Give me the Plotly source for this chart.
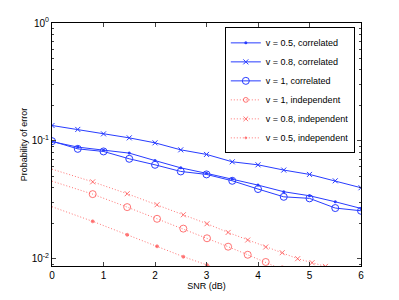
import plotly.graph_objects as go

# SNR (dB) grid for the correlated curves
snr_corr = [0, 0.5, 1, 1.5, 2, 2.5, 3, 3.5, 4, 4.5, 5, 5.5, 6]
pe_corr_05 = [0.0985, 0.0885, 0.0834, 0.0787, 0.0680, 0.0590, 0.0530, 0.0474, 0.0421, 0.0370, 0.0342, 0.0304, 0.0267]
pe_corr_08 = [0.135, 0.125, 0.1146, 0.106, 0.0962, 0.0839, 0.0767, 0.0664, 0.0626, 0.0565, 0.0519, 0.0458, 0.0400]
pe_corr_10 = [0.0994, 0.0855, 0.0813, 0.0704, 0.0626, 0.0550, 0.0519, 0.0458, 0.0390, 0.0335, 0.0325, 0.0269, 0.0255]

# independent curves (dotted), first point at 0 dB has no marker
snr_ind = [0, 0.79, 1.46, 2.04, 2.55, 3.01, 3.42, 3.80, 4.15, 4.47, 4.77, 5.05, 5.31]
pe_ind_10 = [0.0455, 0.0353, 0.0274, 0.0218, 0.0180, 0.0149, 0.01264, 0.0108, 0.00938, 0.0081, None, None, None]
pe_ind_08 = [0.0575, 0.0449, 0.0356, 0.0287, 0.0236, 0.0198, 0.0167, 0.0144, 0.01256, 0.01124, 0.0100, 0.00925, 0.0086]
pe_ind_05 = [0.0276, 0.02074, 0.01596, 0.01274, 0.0104, 0.00885, 0.0075, None, None, None, None, None, None]

names = ["v = 0.5, correlated", "v = 0.8, correlated", "v = 1, correlated",
         "v = 1, independent", "v = 0.8, independent", "v = 0.5, independent"]

xticks = [0, 1, 2, 3, 4, 5, 6]
ytick_vals = [1, 0.1, 0.01]
ytick_text = ["10<sup>0</sup>", "10<sup>-1</sup>", "10<sup>-2</sup>"]

BLUE = "rgb(40,60,255)"
RED = "rgb(255,60,60)"
RED_LINE = "rgba(255,70,70,0.75)"

def sizes(vals, s):
    out = []
    for i, v in enumerate(vals):
        out.append(0 if (i == 0 or v is None) else s)
    return out

fig = go.Figure()
fig.add_trace(go.Scatter(x=snr_corr, y=pe_corr_05, name=names[0], mode="lines+markers",
                         line=dict(color=BLUE, width=1),
                         marker=dict(symbol="circle", size=3, color=BLUE)))
fig.add_trace(go.Scatter(x=snr_corr, y=pe_corr_08, name=names[1], mode="lines+markers",
                         line=dict(color=BLUE, width=1),
                         marker=dict(symbol="x-thin", size=5, line=dict(color=BLUE, width=1))))
fig.add_trace(go.Scatter(x=snr_corr, y=pe_corr_10, name=names[2], mode="lines+markers",
                         line=dict(color=BLUE, width=1),
                         marker=dict(symbol="circle-open", size=7, color=BLUE, line=dict(width=1))))
fig.add_trace(go.Scatter(x=snr_ind, y=pe_ind_10, name=names[3], mode="lines+markers",
                         line=dict(color=RED_LINE, width=1, dash="1px,2px"),
                         marker=dict(symbol="circle-open", size=sizes(pe_ind_10, 7), color=RED, line=dict(width=1))))
fig.add_trace(go.Scatter(x=snr_ind, y=pe_ind_08, name=names[4], mode="lines+markers",
                         line=dict(color=RED_LINE, width=1, dash="1px,2px"),
                         marker=dict(symbol="x-thin", size=sizes(pe_ind_08, 5), color=RED, line=dict(color=RED, width=1))))
fig.add_trace(go.Scatter(x=snr_ind, y=pe_ind_05, name=names[5], mode="lines+markers",
                         line=dict(color=RED_LINE, width=1, dash="1px,2px"),
                         marker=dict(symbol="circle", size=sizes(pe_ind_05, 3), color=RED)))

minor_vals = [k * 10 ** e for e in (-3, -2, -1) for k in range(2, 10)]

fig.update_layout(
    width=399, height=300,
    margin=dict(l=52, r=38, t=23, b=34),
    paper_bgcolor="white", plot_bgcolor="white",
    font=dict(family="Liberation Sans, Arial, sans-serif", size=9, color="black"),
    showlegend=True,
    legend=dict(x=0.98, y=0.982, xanchor="right", yanchor="top",
                bgcolor="white", bordercolor="black", borderwidth=1,
                font=dict(size=9), itemwidth=30, tracegroupgap=0),
    xaxis=dict(range=[0, 6], tickvals=xticks, ticks="inside", ticklen=4,
               showline=True, linecolor="black", linewidth=1, mirror="ticks",
               showgrid=False, zeroline=False, automargin=False,
               tickfont=dict(size=10),
               title=dict(text="SNR (dB)", standoff=0, font=dict(size=9))),
    yaxis=dict(type="log", range=[-2.062, 0], tickvals=ytick_vals, ticktext=ytick_text,
               ticks="inside", ticklen=4,
               showline=True, linecolor="black", linewidth=1, mirror="ticks",
               showgrid=False, zeroline=False, automargin=False,
               tickfont=dict(size=10),
               minor=dict(tickvals=minor_vals, ticks="inside", ticklen=2, showgrid=False),
               title=dict(text="Probability of error", standoff=2, font=dict(size=9))),
)

fig.write_html("out.html", config={"displayModeBar": False},
               post_script="document.body.style.margin='0';")
